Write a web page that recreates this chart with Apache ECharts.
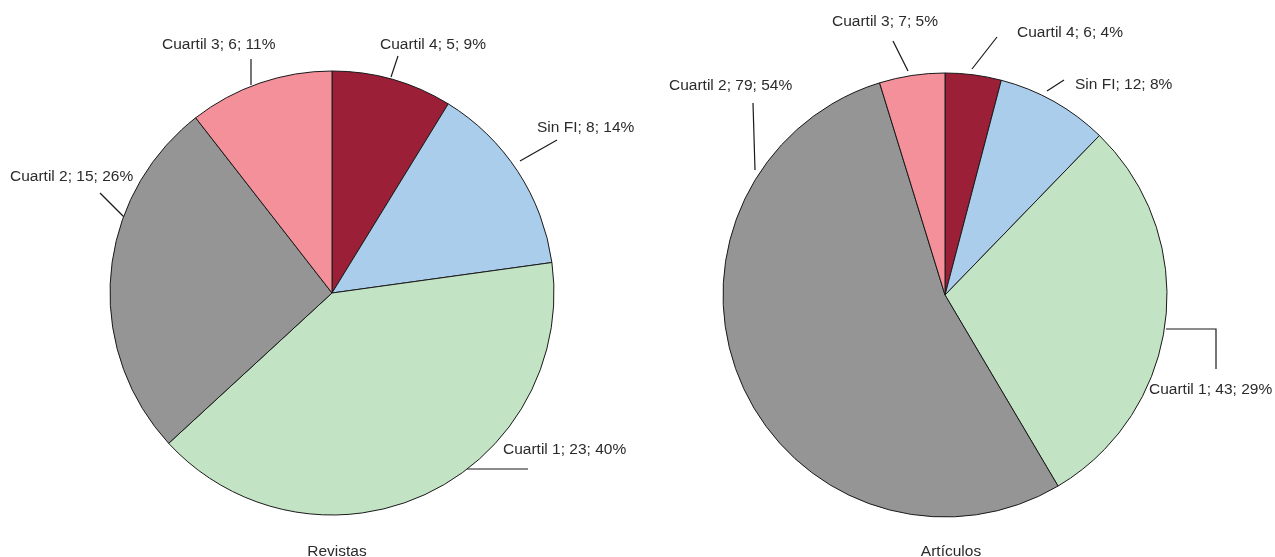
<!DOCTYPE html>
<html>
<head>
<meta charset="utf-8">
<script src="https://cdn.jsdelivr.net/npm/echarts@6/dist/echarts.min.js"></script>
<style>
  html, body { margin: 0; padding: 0; background: #fff; }
  #chart { width: 1275px; height: 557px; }
</style>
</head>
<body>
<div id="chart"></div>
<script>
// categorías en orden horario desde las 12
const categorias = ['Cuartil 4', 'Sin FI', 'Cuartil 1', 'Cuartil 2', 'Cuartil 3'];
const revistas = [5, 8, 23, 15, 6];
const articulos = [6, 12, 43, 79, 7];
const titulos = ['Revistas', 'Artículos'];

const colores = ['#9b1f37', '#abcdec', '#c3e3c5', '#959595', '#f4909a'];

// colocación de etiquetas: [x texto, y texto, líneas guía]
const etiquetasIzq = [
    { x: 380, y: 45, linea: [[391, 77], [398, 56]] },
    { x: 537, y: 128, linea: [[520, 161], [557, 140]] },
    { x: 503, y: 450, linea: [[467, 469], [528, 469]] },
    { x: 10, y: 177, linea: [[124, 217], [100, 193]] },
    { x: 162, y: 45, linea: [[251, 85], [251, 59]] }
];
const etiquetasDer = [
    { x: 1017, y: 33, linea: [[972, 69], [997, 37]] },
    { x: 1075, y: 85, linea: [[1047, 91], [1064, 80]] },
    { x: 1149, y: 390, linea: [[1166, 329], [1216, 329], [1216, 369]] },
    { x: 669, y: 86, linea: [[755, 170], [753, 103]] },
    { x: 832, y: 22, linea: [[908, 71], [893, 41]] }
];

const fuente = 'Liberation Sans, Arial, sans-serif';
const chart = echarts.init(document.getElementById('chart'));

function serie(valores, centro, posiciones) {
    return {
        type: 'pie',
        center: centro,
        radius: 222,
        startAngle: 90,
        clockwise: true,
        percentPrecision: 0,
        animation: false,
        silent: true,
        data: categorias.map((c, i) => ({
            name: c,
            value: valores[i],
            itemStyle: { color: colores[i] }
        })),
        itemStyle: { borderColor: '#1a1a1a', borderWidth: 1 },
        label: {
            show: true,
            formatter: '{b}; {c}; {d}%',
            color: '#2b2b2b',
            fontFamily: fuente,
            fontSize: 15.5,
            overflow: 'none'
        },
        labelLine: {
            show: true,
            length: 15,
            length2: 10,
            lineStyle: { color: '#1a1a1a', width: 1.2 }
        },
        labelLayout: (p) => {
            const e = posiciones[p.dataIndex];
            const pts = e.linea.slice();
            if (pts.length === 2) pts.push(pts[1]);
            return {
                x: e.x,
                y: e.y,
                align: 'left',
                verticalAlign: 'middle',
                labelLinePoints: pts
            };
        }
    };
}

chart.setOption({
    backgroundColor: '#fff',
    title: [
        {
            text: titulos[0], left: 332, top: 539, textAlign: 'center',
            textStyle: { fontFamily: fuente, fontSize: 15.5, fontWeight: 'normal', color: '#2b2b2b' }
        },
        {
            text: titulos[1], left: 946, top: 539, textAlign: 'center',
            textStyle: { fontFamily: fuente, fontSize: 15.5, fontWeight: 'normal', color: '#2b2b2b' }
        }
    ],
    series: [
        serie(revistas, [332, 293], etiquetasIzq),
        serie(articulos, [945, 295], etiquetasDer)
    ]
});
</script>
</body>
</html>
